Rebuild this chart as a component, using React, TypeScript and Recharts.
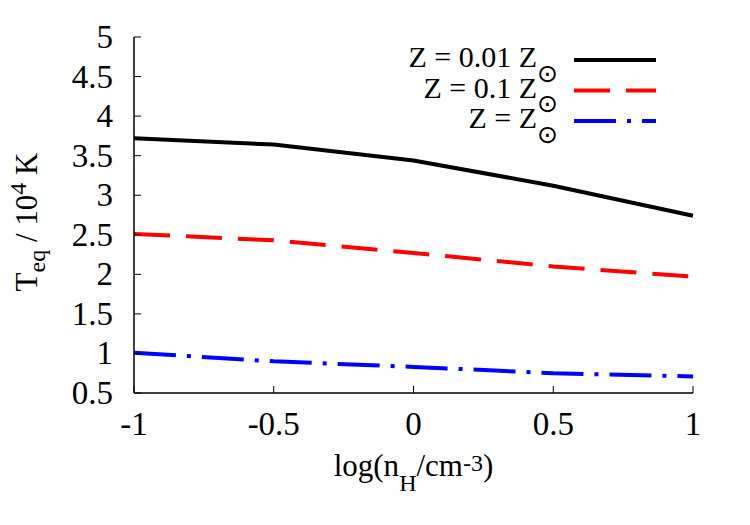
import React from "react";
import { LineChart, Line, XAxis, YAxis, Legend, Label } from "recharts";

// log(n_H / cm^-3) sample points
const logN = [-1, -0.5, 0, 0.5, 1];
// T_eq in units of 1e4 K
const tEqLowZ = [3.72, 3.64, 3.44, 3.12, 2.74];
const tEqMidZ = [2.51, 2.43, 2.27, 2.1, 1.97];
const tEqSolarZ = [1.01, 0.9, 0.83, 0.75, 0.71];

const xTicks = [-1, -0.5, 0, 0.5, 1];
const yTicks = [0.5, 1, 1.5, 2, 2.5, 3, 3.5, 4, 4.5, 5];
const legendLabels = ["Z = 0.01 Z", "Z = 0.1 Z", "Z = Z"];

const data = logN.map((x, i) => ({
  x,
  low: tEqLowZ[i],
  mid: tEqMidZ[i],
  solar: tEqSolarZ[i],
}));

const series = [
  { key: "low", label: legendLabels[0], color: "#000000", dash: undefined as string | undefined },
  { key: "mid", label: legendLabels[1], color: "#ff0000", dash: "36 16" },
  { key: "solar", label: legendLabels[2], color: "#0000ff", dash: "42 11 4 11" },
];

const FONT = "Liberation Serif, Times New Roman, serif";
const TICK_FONT = 33;
const LABEL_FONT = 31;
const LEGEND_FONT = 30;
const TICK_LEN = 7;

const txt = (size: number) => ({ fontFamily: FONT, fontSize: size });

const BottomTick = (props: any) => {
  const { x, y, payload } = props;
  return (
    <g>
      <line x1={x} y1={y} x2={x} y2={y - TICK_LEN} stroke="#000" />
      <text x={x} y={y + 42} textAnchor="middle" style={txt(TICK_FONT)} fill="#000">
        {String(payload.value)}
      </text>
    </g>
  );
};

const LeftTick = (props: any) => {
  const { x, y, payload } = props;
  return (
    <g>
      <line x1={x} y1={y} x2={x + TICK_LEN} y2={y} stroke="#000" />
      <text x={x - 21} y={y + 11} textAnchor="end" style={txt(TICK_FONT)} fill="#000">
        {String(payload.value)}
      </text>
    </g>
  );
};

const TopTick = (props: any) => {
  const { x, y } = props;
  return <line x1={x} y1={y} x2={x} y2={y + TICK_LEN} stroke="#000" />;
};

const RightTick = (props: any) => {
  const { x, y } = props;
  return <line x1={x} y1={y} x2={x - TICK_LEN} y2={y} stroke="#000" />;
};

const XLabel = (props: any) => {
  const vb = props.viewBox;
  return (
    <text x={vb.x + vb.width / 2} y={vb.y + 83} textAnchor="middle" style={txt(LABEL_FONT)} fill="#000">
      <tspan>log(n</tspan>
      <tspan dy={15} style={{ fontSize: 24 }}>H</tspan>
      <tspan dy={-15}>/cm</tspan>
      <tspan dy={-5} style={{ fontSize: 24 }}>-3</tspan>
      <tspan dy={5}>)</tspan>
    </text>
  );
};

const YLabel = () => {
  const cx = 37;
  const cy = 222;
  return (
    <text x={cx} y={cy} textAnchor="middle" transform={`rotate(-90 ${cx} ${cy})`} style={txt(LABEL_FONT)} fill="#000">
      <tspan>T</tspan>
      <tspan dy={8} style={{ fontSize: 24 }}>eq</tspan>
      <tspan dy={-8}> / 10</tspan>
      <tspan dy={-11} style={{ fontSize: 24 }}>4</tspan>
      <tspan dy={11}> K</tspan>
    </text>
  );
};

const LegendBox = () => (
  <svg width={320} height={125}>
    {series.map((s, i) => {
      const base = 27 + i * 30.5;
      return (
        <g key={s.key}>
          <text x={157} y={base} textAnchor="end" style={txt(LEGEND_FONT)} fill="#000">
            {s.label}
          </text>
          <text
            x={157}
            y={base + 6}
            dominantBaseline="central"
            textAnchor="start"
            style={{ fontSize: 25, fontFamily: "DejaVu Sans, sans-serif" }}
            fill="#000"
          >
            ⊙
          </text>
          <line x1={194} x2={276} y1={base - 7} y2={base - 7} stroke={s.color} strokeWidth={4} strokeDasharray={s.dash} />
        </g>
      );
    })}
  </svg>
);

const App: React.FC = () => {
  return (
    <div style={{ position: "absolute", left: 0, top: 0, background: "#fff" }}>
      <LineChart width={750} height={525} data={data} margin={{ top: 37, right: 57, left: 64, bottom: 82 }}>
        <XAxis
          xAxisId="bottom"
          dataKey="x"
          type="number"
          domain={[-1, 1]}
          ticks={xTicks}
          interval={0}
          height={50}
          tickSize={0}
          tickMargin={0}
          tickLine={false}
          tick={<BottomTick />}
          axisLine={{ stroke: "#000", strokeWidth: 1.5 }}
        >
          <Label content={<XLabel />} />
        </XAxis>
        <XAxis
          xAxisId="top"
          orientation="top"
          type="number"
          domain={[-1, 1]}
          ticks={xTicks}
          interval={0}
          height={0}
          tickSize={0}
          tickMargin={0}
          tickLine={false}
          tick={<TopTick />}
          axisLine={{ stroke: "#000", strokeWidth: 1.5 }}
        />
        <YAxis
          yAxisId="left"
          type="number"
          domain={[0.5, 5]}
          ticks={yTicks}
          interval={0}
          width={70}
          tickSize={0}
          tickMargin={0}
          tickLine={false}
          tick={<LeftTick />}
          axisLine={{ stroke: "#000", strokeWidth: 1.5 }}
        >
          <Label content={<YLabel />} />
        </YAxis>
        <YAxis
          yAxisId="right"
          orientation="right"
          type="number"
          domain={[0.5, 5]}
          ticks={yTicks}
          interval={0}
          width={0}
          tickSize={0}
          tickMargin={0}
          tickLine={false}
          tick={<RightTick />}
          axisLine={{ stroke: "#000", strokeWidth: 1.5 }}
        />
        <Legend
          layout="horizontal"
          verticalAlign="middle"
          align="center"
          wrapperStyle={{ position: "absolute", left: 380, top: 40, width: 320, height: 125 }}
          content={<LegendBox />}
        />
        {series.map((s) => (
          <Line
            key={s.key}
            xAxisId="bottom"
            yAxisId="left"
            type="linear"
            dataKey={s.key}
            name={s.label}
            stroke={s.color}
            strokeWidth={4}
            strokeDasharray={s.dash}
            dot={false}
            activeDot={false}
            isAnimationActive={false}
          />
        ))}
      </LineChart>
    </div>
  );
};

export default App;
